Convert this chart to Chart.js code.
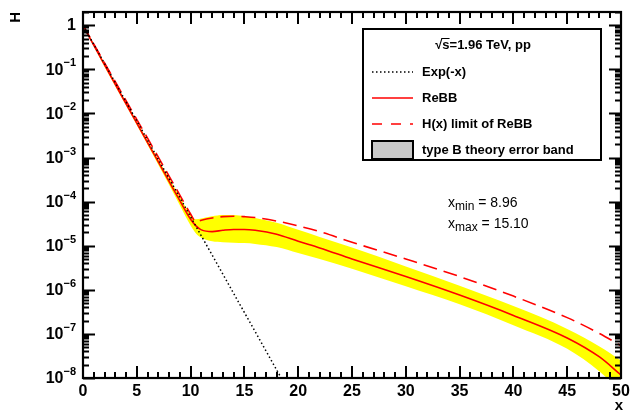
<!DOCTYPE html>
<html>
<head>
<meta charset="utf-8">
<script src="https://cdn.jsdelivr.net/npm/chart.js@4/dist/chart.umd.min.js"></script>
<style>
  body { margin: 0; background: #fff; }
  #wrap { width: 638px; height: 413px; }
</style>
</head>
<body>
<div id="wrap"><canvas id="hChart" width="638" height="413"></canvas></div>
<script>
// x grid shared by the ReBB curves and the error band
const xs = [0, 2, 4, 6, 8, 9, 10, 10.5, 11, 12, 13, 14, 15, 16, 18, 20, 22, 25, 30, 35, 40, 45, 48, 50];

// ReBB H(x), solid line
const rebb = [1, 0.126, 0.0166, 2.19e-3, 2.88e-4, 1.05e-4, 3.98e-5, 2.82e-5, 2.29e-5, 2.09e-5, 2.24e-5, 2.34e-5,
  2.34e-5, 2.24e-5, 1.82e-5, 1.26e-5, 8.9e-6, 5.0e-6, 2.0e-6, 7.6e-7, 2.63e-7, 8.1e-8, 3.0e-8, 1.17e-8];

// H(x) limit of ReBB, dashed line
const hLimit = [1, 0.141, 0.0195, 2.75e-3, 3.8e-4, 1.41e-4, 5.25e-5, 3.47e-5, 3.8e-5, 4.27e-5, 4.57e-5, 4.68e-5,
  4.57e-5, 4.37e-5, 3.63e-5, 2.82e-5, 2.09e-5, 1.2e-5, 5.0e-6, 2.0e-6, 7.2e-7, 2.34e-7, 1.02e-7, 5.4e-8];

// type B theory error band
const bandHi = [1.05, 0.138, 0.0182, 2.45e-3, 3.39e-4, 1.29e-4, 5.0e-5, 3.98e-5, 4.17e-5, 4.68e-5, 5.0e-5, 5.0e-5,
  4.68e-5, 4.27e-5, 3.31e-5, 2.29e-5, 1.58e-5, 9.1e-6, 3.39e-6, 1.23e-6, 4.27e-7, 1.3e-7, 5.2e-8, 2.5e-8];
const bandLo = [0.955, 0.115, 0.0151, 1.95e-3, 2.4e-4, 8.3e-5, 2.88e-5, 1.9e-5, 1.51e-5, 1.26e-5, 1.2e-5, 1.17e-5,
  1.15e-5, 1.1e-5, 9.3e-6, 6.8e-6, 5.0e-6, 3.0e-6, 1.2e-6, 4.7e-7, 1.58e-7, 4.6e-8, 1.41e-8, 5.0e-9];

// Exp(-x) reference line
const expX = [0, 10, 20];
const expY = [1, 4.54e-5, 2.06e-9];

// axis ranges and ticks
const xMin = 0, xMax = 50;
const yMin = 1e-8, yMax = 2;
const xLabels = [0, 5, 10, 15, 20, 25, 30, 35, 40, 45, 50];
const yExponents = [-8, -7, -6, -5, -4, -3, -2, -1, 0];

const legendRows = ['Exp(-x)', 'ReBB', 'H(x) limit of ReBB', 'type B theory error band'];
const xMinText = '8.96';
const xMaxText = '15.10';

const pts = (xv, yv) => xv.map((x, i) => ({ x: x, y: yv[i] }));
const BOLD = 'bold 16px "Liberation Sans", Arial, sans-serif';

// frame, inward ticks, labels, legend box and text
const rootFrame = {
  id: 'rootFrame',
  afterDraw(chart) {
    const ctx = chart.ctx;
    const a = chart.chartArea;
    const sx = chart.scales.x, sy = chart.scales.y;
    ctx.save();
    ctx.strokeStyle = '#000';
    ctx.fillStyle = '#000';

    // x ticks, bottom and top
    ctx.lineWidth = 2;
    ctx.beginPath();
    for (let v = xMin; v <= xMax; v++) {
      const px = Math.round(sx.getPixelForValue(v));
      const len = v % 5 === 0 ? 12 : 6;
      ctx.moveTo(px, a.bottom); ctx.lineTo(px, a.bottom - len);
      ctx.moveTo(px, a.top); ctx.lineTo(px, a.top + len);
    }
    // y ticks, left and right
    for (let k = -8; k <= 0; k++) {
      for (let m = 1; m <= 9; m++) {
        const v = m * Math.pow(10, k);
        if (v > yMax) break;
        const py = Math.round(sy.getPixelForValue(v)) + 0.5;
        const len = m === 1 ? 12 : 6;
        ctx.moveTo(a.left, py); ctx.lineTo(a.left + len, py);
        ctx.moveTo(a.right, py); ctx.lineTo(a.right - len, py);
      }
    }
    ctx.stroke();

    // frame
    ctx.lineWidth = 2.2;
    ctx.strokeRect(a.left, a.top, a.right - a.left, a.bottom - a.top);

    // x labels
    ctx.font = BOLD;
    ctx.textAlign = 'center';
    ctx.textBaseline = 'top';
    xLabels.forEach(v => ctx.fillText(String(v), sx.getPixelForValue(v), a.bottom + 6));

    // y labels, 10 with superscript exponent
    ctx.textBaseline = 'middle';
    yExponents.forEach(k => {
      const py = sy.getPixelForValue(Math.pow(10, k));
      const right = a.left - 7;
      if (k === 0) {
        ctx.font = BOLD;
        ctx.textAlign = 'right';
        ctx.fillText('1', right, py);
        return;
      }
      const sup = '\u2212' + (-k);
      ctx.font = 'bold 11px "Liberation Sans", Arial, sans-serif';
      const wSup = ctx.measureText(sup).width;
      ctx.textAlign = 'left';
      ctx.fillText(sup, right - wSup, py - 6);
      ctx.font = BOLD;
      ctx.textAlign = 'right';
      ctx.fillText('10', right - wSup, py + 1);
    });

    // axis titles
    ctx.font = 'bold 15px "Liberation Sans", Arial, sans-serif';
    ctx.textAlign = 'right';
    ctx.textBaseline = 'middle';
    ctx.fillText('x', a.right + 2, a.bottom + 28);
    ctx.save();
    ctx.translate(16, a.top);
    ctx.rotate(-Math.PI / 2);
    ctx.textAlign = 'right';
    ctx.fillText('H', 0, 0);
    ctx.restore();

    // legend box
    const lx = 363, ly = 29, lw = 238, lh = 131;
    ctx.fillStyle = '#fff';
    ctx.fillRect(lx, ly, lw, lh);
    ctx.lineWidth = 2;
    ctx.strokeStyle = '#000';
    ctx.strokeRect(lx, ly, lw, lh);

    ctx.fillStyle = '#000';
    ctx.font = 'bold 13px "Liberation Sans", Arial, sans-serif';
    ctx.textBaseline = 'middle';
    // header: sqrt(s)=1.96 TeV, pp
    const rest = 's=1.96 TeV, pp';
    const wRoot = ctx.measureText('\u221A').width;
    const wRest = ctx.measureText(rest).width;
    const hx = 483 - (wRoot + wRest) / 2, hy = 45;
    ctx.textAlign = 'left';
    ctx.fillText('\u221A', hx, hy);
    ctx.fillText(rest, hx + wRoot, hy);
    ctx.lineWidth = 1;
    ctx.beginPath();
    ctx.moveTo(hx + wRoot - 1, hy - 6.5);
    ctx.lineTo(hx + wRoot + ctx.measureText('s').width, hy - 6.5);
    ctx.stroke();

    const rowY = [72, 98, 124, 150];
    const sx0 = 372, sx1 = 413;
    legendRows.forEach((t, i) => ctx.fillText(t, 422, rowY[i]));

    ctx.lineWidth = 1.5;
    ctx.setLineDash([1.5, 2.5]);
    ctx.strokeStyle = '#000';
    ctx.beginPath(); ctx.moveTo(sx0, rowY[0]); ctx.lineTo(sx1, rowY[0]); ctx.stroke();
    ctx.setLineDash([]);
    ctx.strokeStyle = '#ff0000';
    ctx.beginPath(); ctx.moveTo(sx0, rowY[1]); ctx.lineTo(sx1, rowY[1]); ctx.stroke();
    ctx.setLineDash([10, 9]);
    ctx.beginPath(); ctx.moveTo(sx0, rowY[2]); ctx.lineTo(sx1, rowY[2]); ctx.stroke();
    ctx.setLineDash([]);
    ctx.fillStyle = '#c8c8c8';
    ctx.fillRect(sx0, rowY[3] - 9, sx1 - sx0, 18);
    ctx.lineWidth = 2;
    ctx.strokeStyle = '#000';
    ctx.strokeRect(sx0, rowY[3] - 9, sx1 - sx0, 18);

    // x_min / x_max annotation
    ctx.fillStyle = '#000';
    ctx.textBaseline = 'alphabetic';
    const note = (sub, val, x0, base) => {
      ctx.font = '14px "Liberation Sans", Arial, sans-serif';
      ctx.fillText('x', x0, base);
      let x = x0 + ctx.measureText('x').width;
      ctx.font = '12px "Liberation Sans", Arial, sans-serif';
      ctx.fillText(sub, x, base + 3);
      x += ctx.measureText(sub).width;
      ctx.font = '14px "Liberation Sans", Arial, sans-serif';
      ctx.fillText(' = ' + val, x, base);
    };
    note('min', xMinText, 448, 207);
    note('max', xMaxText, 448, 228);

    ctx.restore();
  }
};

new Chart(document.getElementById('hChart'), {
  type: 'line',
  data: {
    datasets: [
      {
        label: 'Exp(-x)',
        data: pts(expX, expY),
        borderColor: '#000',
        borderWidth: 1.5,
        borderDash: [1.5, 2.5],
        pointRadius: 0,
        fill: false,
        order: 1
      },
      {
        label: 'ReBB',
        data: pts(xs, rebb),
        borderColor: '#ff0000',
        borderWidth: 1.6,
        pointRadius: 0,
        cubicInterpolationMode: 'monotone',
        fill: false,
        order: 2
      },
      {
        label: 'H(x) limit of ReBB',
        data: pts(xs, hLimit),
        borderColor: '#ff0000',
        borderWidth: 1.6,
        borderDash: [14, 7],
        pointRadius: 0,
        cubicInterpolationMode: 'monotone',
        fill: false,
        order: 3
      },
      {
        label: 'band high',
        data: pts(xs, bandHi),
        borderWidth: 0,
        borderColor: 'rgba(0,0,0,0)',
        backgroundColor: '#ffff00',
        pointRadius: 0,
        cubicInterpolationMode: 'monotone',
        fill: '+1',
        order: 4
      },
      {
        label: 'band low',
        data: pts(xs, bandLo),
        borderWidth: 0,
        borderColor: 'rgba(0,0,0,0)',
        pointRadius: 0,
        cubicInterpolationMode: 'monotone',
        fill: false,
        order: 5
      }
    ]
  },
  options: {
    responsive: false,
    animation: false,
    layout: { padding: { left: 83, right: 17, top: 12, bottom: 35 } },
    plugins: { legend: { display: false }, tooltip: { enabled: false } },
    scales: {
      x: { type: 'linear', min: xMin, max: xMax, display: false },
      y: { type: 'logarithmic', min: yMin, max: yMax, display: false }
    }
  },
  plugins: [rootFrame]
});
</script>
</body>
</html>
